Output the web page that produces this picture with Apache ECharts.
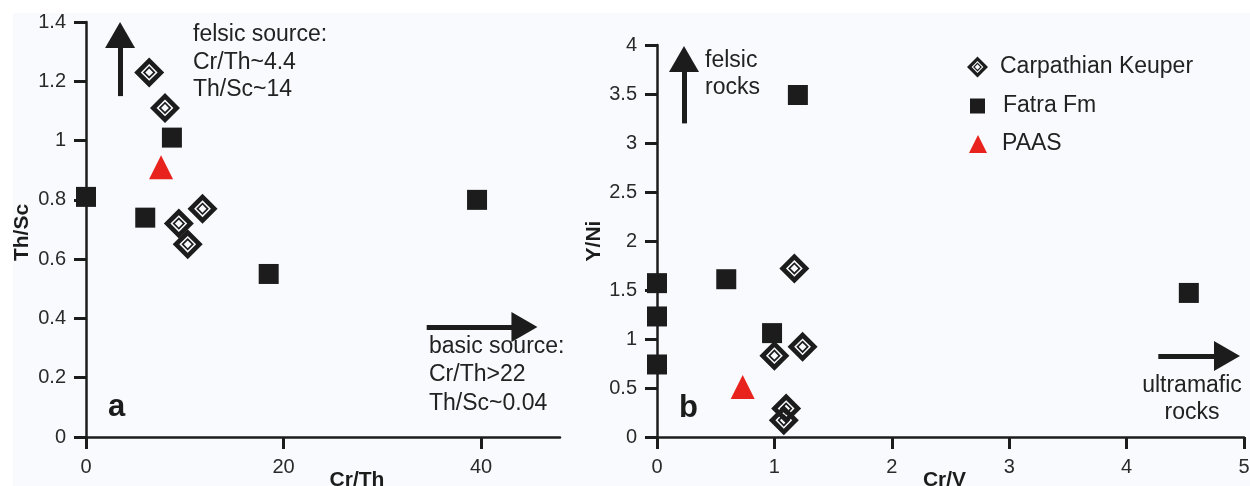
<!DOCTYPE html>
<html>
<head>
<meta charset="utf-8">
<script src="https://cdn.jsdelivr.net/npm/echarts@6/dist/echarts.min.js"></script>
<style>
  html, body { margin: 0; padding: 0; background: #fff; }
  #chart { width: 1250px; height: 486px; }
</style>
</head>
<body>
<div id="chart"></div>
<script>
// panel a: Cr/Th vs Th/Sc
const keuperA = [[6.4, 1.23], [8.0, 1.11], [9.4, 0.72], [10.3, 0.65], [11.8, 0.77]];
const fatraA = [[0, 0.81], [6.0, 0.74], [8.7, 1.01], [18.5, 0.55], [39.6, 0.80]];
const paasA = [[7.6, 0.91]];
const ticksXA = [0, 20, 40];

// panel b: Cr/V vs Y/Ni
const keuperB = [[1.17, 1.72], [1.24, 0.92], [1.0, 0.83], [1.1, 0.29], [1.08, 0.17]];
const fatraB = [[0, 1.57], [0, 1.23], [0, 0.74], [0.59, 1.61], [0.98, 1.06], [1.2, 3.49], [4.53, 1.47]];
const paasB = [[0.73, 0.51]];

const seriesNames = ['Carpathian Keuper', 'Fatra Fm', 'PAAS'];

// double diamond: outer ring, gap, inner ring, white centre
const diamondPath = 'path://M50 0 L100 50 L50 100 L0 50 Z ' +
    'M50 22 L22 50 L50 78 L78 50 Z ' +
    'M50 29 L71 50 L50 71 L29 50 Z ' +
    'M50 37 L37 50 L50 63 L63 50 Z';

const ink = '#1c1c1c';
const font = 'Liberation Sans, Arial, sans-serif';

const chart = echarts.init(document.getElementById('chart'));

const axisCommon = {
    type: 'value',
    splitLine: { show: false },
    axisLine: { show: true, onZero: false, lineStyle: { color: ink, width: 2.5 } },
    axisTick: { show: true, length: 12, lineStyle: { color: ink, width: 3 } },
    axisLabel: { color: '#2a2a2a', fontSize: 20, fontFamily: font, margin: 20 },
    nameTextStyle: { color: ink, fontSize: 21, fontWeight: 'bold', fontFamily: font },
    nameLocation: 'middle',
    nameMoveOverlap: false
};

const arrowLine = (from, to) => [{ coord: from }, { coord: to }];

const markArrows = (lines) => ({
    silent: true,
    symbol: ['none', 'triangle'],
    symbolSize: [30, 26],
    label: { show: false },
    lineStyle: { color: ink, width: 5, type: 'solid', opacity: 1 },
    data: lines
});

const keuperStyle = { color: ink, opacity: 1 };
const squareStyle = { color: ink, opacity: 1 };
const paasStyle = { color: '#e8231d', opacity: 1 };

const legendText = (pad) => ({ color: '#222', fontSize: 23, fontFamily: font, lineHeight: 26, padding: [0, 0, 0, pad] });

chart.setOption({
    animation: false,
    backgroundColor: '#fff',
    graphic: [
        { type: 'rect', z: -10, shape: { x: 13, y: 13, width: 1237, height: 473 }, style: { fill: '#f9fafd' } },
        { type: 'text', left: 193, top: 21, style: { text: 'felsic source:\nCr/Th~4.4\nTh/Sc~14', font: '23px ' + font, fill: '#222', lineHeight: 27.5 } },
        { type: 'text', left: 429, top: 332, style: { text: 'basic source:\nCr/Th>22\nTh/Sc~0.04', font: '23px ' + font, fill: '#222', lineHeight: 28.5 } },
        { type: 'text', left: 705, top: 47, style: { text: 'felsic\nrocks', font: '23px ' + font, fill: '#222', lineHeight: 27 } },
        { type: 'text', x: 1192, y: 372, style: { text: 'ultramafic\nrocks', font: '23px ' + font, fill: '#222', lineHeight: 27, align: 'center', verticalAlign: 'top' } },
        { type: 'text', x: 108, y: 407, style: { text: 'a', font: 'bold 31px ' + font, fill: ink, verticalAlign: 'middle' } },
        { type: 'text', x: 679, y: 408, style: { text: 'b', font: 'bold 31px ' + font, fill: ink, verticalAlign: 'middle' } }
    ],
    legend: [
        { data: [seriesNames[0]], left: 962, top: 49, itemWidth: 21, itemHeight: 21, textStyle: legendText(7) },
        { data: [seriesNames[1]], left: 965, top: 88, itemWidth: 15, itemHeight: 15, textStyle: legendText(13) },
        { data: [seriesNames[2]], left: 964, top: 126, itemWidth: 18, itemHeight: 18, textStyle: legendText(10) }
    ],
    grid: [
        { left: 86, top: 22, width: 474, height: 415, outerBoundsMode: 'none' },
        { left: 657, top: 45, width: 587, height: 392, outerBoundsMode: 'none' }
    ],
    xAxis: [
        Object.assign({}, axisCommon, {
            gridIndex: 0, min: 0, max: 48, name: 'Cr/Th', nameGap: 33,
            axisTick: Object.assign({}, axisCommon.axisTick, { customValues: ticksXA }),
            axisLabel: Object.assign({}, axisCommon.axisLabel, { customValues: ticksXA }),
            nameTextStyle: Object.assign({}, axisCommon.nameTextStyle, { padding: [0, 0, 0, 68] })
        }),
        Object.assign({}, axisCommon, {
            gridIndex: 1, min: 0, max: 5, interval: 1, name: 'Cr/V', nameGap: 33,
            nameTextStyle: Object.assign({}, axisCommon.nameTextStyle, { padding: [0, 12, 0, 0] })
        })
    ],
    yAxis: [
        Object.assign({}, axisCommon, {
            gridIndex: 0, min: 0, max: 1.4, interval: 0.2, name: 'Th/Sc', nameGap: 53,
            nameTextStyle: Object.assign({}, axisCommon.nameTextStyle, { padding: [0, 6, 0, 0] })
        }),
        Object.assign({}, axisCommon, {
            gridIndex: 1, min: 0, max: 4, interval: 0.5, name: 'Y/Ni', nameGap: 52
        })
    ],
    series: [
        { name: seriesNames[0], type: 'scatter', xAxisIndex: 0, yAxisIndex: 0, symbol: diamondPath, symbolSize: 30, itemStyle: keuperStyle, data: keuperA, z: 3 },
        {
            name: seriesNames[1], type: 'scatter', xAxisIndex: 0, yAxisIndex: 0, symbol: 'rect', symbolSize: 20, itemStyle: squareStyle, data: fatraA,
            markLine: markArrows([
                arrowLine([3.45, 1.15], [3.45, 1.356]),
                arrowLine([34.5, 0.371], [44.4, 0.371])
            ])
        },
        { name: seriesNames[2], type: 'scatter', xAxisIndex: 0, yAxisIndex: 0, symbol: 'triangle', symbolSize: [24, 24], itemStyle: paasStyle, data: paasA },
        { name: seriesNames[0], type: 'scatter', xAxisIndex: 1, yAxisIndex: 1, symbol: diamondPath, symbolSize: 30, itemStyle: keuperStyle, data: keuperB, z: 3 },
        {
            name: seriesNames[1], type: 'scatter', xAxisIndex: 1, yAxisIndex: 1, symbol: 'rect', symbolSize: 20, itemStyle: squareStyle, data: fatraB,
            markLine: markArrows([
                arrowLine([0.23, 3.2], [0.23, 3.857]),
                arrowLine([4.27, 0.827], [4.855, 0.827])
            ])
        },
        { name: seriesNames[2], type: 'scatter', xAxisIndex: 1, yAxisIndex: 1, symbol: 'triangle', symbolSize: [24, 24], itemStyle: paasStyle, data: paasB }
    ]
});
</script>
</body>
</html>
